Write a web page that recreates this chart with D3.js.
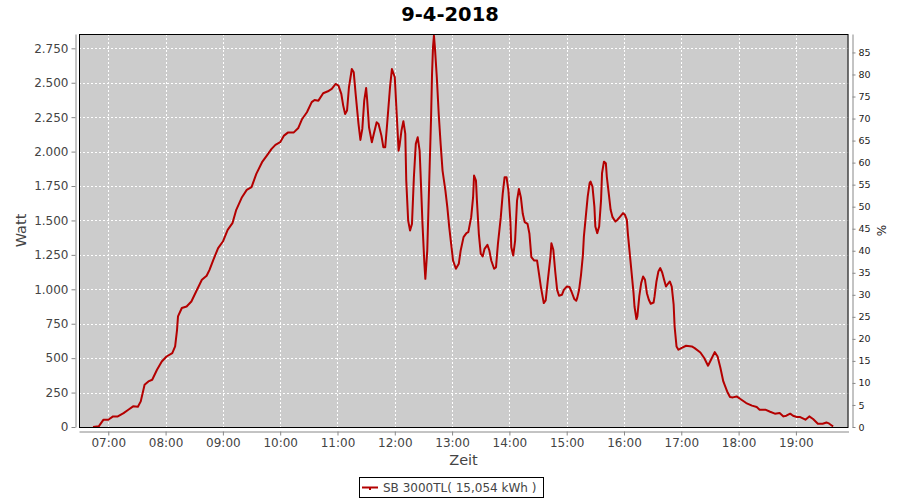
<!DOCTYPE html>
<html><head><meta charset="utf-8">
<script src="https://cdn.jsdelivr.net/npm/d3@7"></script>
<style>
html,body{margin:0;padding:0;background:#fff;}
svg{display:block;font-family:"DejaVu Sans",sans-serif;}
</style></head>
<body>
<svg id="c" width="900" height="500"></svg>
<script>
const title = "9-4-2018";
const seriesName = "SB 3000TL( 15,054 kWh )";
const times = ["06:44","06:50","06:55","07:00","07:05","07:10","07:16","07:21","07:26","07:31","07:34","07:38","07:42","07:46","07:51","07:56",
"08:01","08:07","08:10","08:12","08:13","08:17","08:22","08:27","08:32","08:38","08:43","08:46","08:50","08:55",
"09:00","09:05","09:10","09:14","09:20","09:25","09:30","09:35","09:41","09:46","09:51","09:55",
"10:00","10:04","10:08","10:14","10:19","10:23","10:28","10:33","10:36","10:40","10:45","10:50","10:54","10:58",
"11:01","11:04","11:06","11:08","11:10","11:12","11:15","11:17","11:19","11:22","11:24","11:26","11:28","11:30","11:31","11:33","11:36","11:38","11:41","11:43","11:46","11:48","11:50","11:52","11:55","11:57",
"12:00","12:02","12:04","12:05","12:07","12:09","12:11","12:12","12:14","12:16","12:18","12:20","12:22","12:24","12:26","12:27","12:29","12:31","12:32","12:34","12:36","12:38","12:39","12:40","12:41","12:42","12:44","12:46","12:48","12:50","12:53","12:55","12:57","12:59",
"13:01","13:04","13:07","13:09","13:12","13:15","13:17","13:20","13:22","13:23","13:25","13:26","13:28","13:30","13:32","13:34","13:37","13:39","13:41","13:44","13:46","13:48","13:51","13:53","13:55","13:57","13:59",
"14:01","14:02","14:04","14:06","14:08","14:10","14:12","14:14","14:16","14:19","14:21","14:23","14:26","14:29","14:31","14:33","14:36","14:38","14:40","14:43","14:44","14:46","14:48","14:50","14:52","14:55","14:57",
"15:00","15:03","15:05","15:08","15:10","15:11","15:13","15:15","15:17","15:18","15:20","15:22","15:24","15:25","15:27","15:29","15:30","15:32","15:34","15:36","15:37","15:39","15:41","15:42","15:44","15:46","15:48","15:51","15:53","15:56","15:59",
"16:01","16:03","16:04","16:06","16:08","16:10","16:11","16:13","16:14","16:16","16:18","16:20","16:22","16:24","16:26","16:28","16:31","16:32","16:34","16:36","16:38","16:40","16:42","16:44","16:46","16:48","16:50","16:52","16:53","16:55","16:57",
"17:00","17:05","17:11","17:14","17:20","17:24","17:28","17:32","17:35","17:38","17:41","17:44","17:48","17:51","17:54","17:58",
"18:03","18:08","18:14","18:19","18:22","18:28","18:33","18:38","18:43","18:47","18:50","18:54","18:57",
"19:01","19:04","19:10","19:14","19:18","19:23","19:28","19:32","19:35","19:39"];
const watts = [0,5,53,53,77,77,101,125,150,147,186,307,331,343,416,476,
512,537,585,706,803,864,875,911,984,1069,1098,1141,1214,1299,
1347,1432,1480,1577,1669,1722,1742,1838,1923,1971,2020,2049,
2068,2116,2138,2138,2172,2237,2286,2359,2375,2370,2424,2438,2455,2491,
2479,2419,2334,2273,2298,2467,2600,2576,2419,2201,2085,2165,2370,2462,2382,2177,2068,2128,2213,2201,2116,2032,2032,2201,2467,2600,
2540,2273,2007,2044,2152,2221,2128,1790,1499,1427,1475,1814,2056,2104,2007,1838,1475,1185,1076,1282,1766,2250,2564,2757,2842,2757,2540,2273,2056,1862,1717,1596,1451,1330,
1209,1149,1185,1282,1379,1408,1415,1524,1669,1826,1790,1644,1403,1258,1238,1294,1323,1282,1209,1149,1161,1330,1524,1693,1814,1814,1717,
1499,1306,1245,1354,1644,1729,1669,1548,1488,1475,1403,1234,1209,1209,1112,1016,900,919,1050,1238,1335,1287,1129,996,953,960,996,
1020,1016,984,929,917,936,996,1105,1250,1383,1528,1673,1771,1782,1746,1601,1456,1408,1456,1649,1843,1927,1916,1819,1698,1577,1524,1492,1504,1528,1553,
1541,1504,1408,1263,1118,972,875,784,803,948,1045,1093,1069,972,924,895,904,948,1057,1129,1154,1122,1069,1020,1040,1057,1020,888,730,585,561,
573,590,585,573,541,501,445,501,544,512,428,331,258,218,215,222,
198,174,155,145,126,126,111,97,102,77,82,97,82,
73,73,53,77,58,24,24,33,24,4];
const leftTicks = [0,250,500,750,1000,1250,1500,1750,2000,2250,2500,2750];
const rightTicks = [0,5,10,15,20,25,30,35,40,45,50,55,60,65,70,75,80,85];
const hourTicks = ["07:00","08:00","09:00","10:00","11:00","12:00","13:00","14:00","15:00","16:00","17:00","18:00","19:00"];
const xDomain = ["06:29:20","19:55:05"];
const wattMax = 2854;
const nominal = 3200;

const parse = d3.timeParse("%H:%M");
const parseS = d3.timeParse("%H:%M:%S");
const data = times.map((t,i)=>({t:parse(t), v:watts[i]}));

const L=79, R=848.5, T=34, B=427;
const svg = d3.select("#c");
const x = d3.scaleTime().domain(xDomain.map(parseS)).range([L,R]);
const y = d3.scaleLinear().domain([0,wattMax]).range([B,T]);
const yR = d3.scaleLinear().domain([0,wattMax/nominal*100]).range([B,T]);
const de = d3.formatLocale({decimal:",",thousands:".",grouping:[3],currency:["","€"]});
const fmt = de.format(",d");

svg.append("text").attr("x",450).attr("y",21).attr("text-anchor","middle")
  .style("font-weight","bold").style("font-size","19.5px").attr("fill","#000").text(title);

svg.append("rect").attr("x",L).attr("y",T).attr("width",R-L).attr("height",B-T).attr("fill","#cccccc");

const grid = svg.append("g").attr("stroke","#fff").attr("stroke-width",1).attr("stroke-dasharray","2,2");
grid.selectAll("line.h").data(leftTicks.slice(1)).join("line")
  .attr("x1",L).attr("x2",R).attr("y1",d=>Math.round(y(d))+0.5).attr("y2",d=>Math.round(y(d))+0.5);
grid.selectAll("line.v").data(hourTicks).join("line")
  .attr("y1",T).attr("y2",B).attr("x1",d=>Math.round(x(parse(d)))+0.5).attr("x2",d=>Math.round(x(parse(d)))+0.5);

svg.append("path").datum(data)
  .attr("fill","none").attr("stroke","#b40000").attr("stroke-width",2).attr("stroke-linejoin","round")
  .attr("d", d3.line().x(d=>x(d.t)).y(d=>y(d.v)));

svg.append("rect").attr("x",L+0.5).attr("y",T+0.5).attr("width",R-L-1).attr("height",B-T).attr("fill","none").attr("stroke","#000").attr("stroke-width",1);

function styleAxis(g, size, col){
  g.select(".domain").attr("stroke","#888");
  g.selectAll(".tick line").attr("stroke","#888");
  g.selectAll(".tick text").attr("fill",col).style("font-size",size).style("font-family","DejaVu Sans");
}
const gl = svg.append("g").attr("transform","translate(75.5,0)")
  .call(d3.axisLeft(y).tickValues(leftTicks).tickFormat(fmt).tickSize(4).tickSizeOuter(0).tickPadding(3));
styleAxis(gl,"12px","#444");
const gb = svg.append("g").attr("transform","translate(0,431.5)")
  .call(d3.axisBottom(x).tickValues(hourTicks.map(parse)).tickFormat(d3.timeFormat("%H:%M")).tickSize(4).tickSizeOuter(0).tickPadding(3));
styleAxis(gb,"12px","#444");
const gr = svg.append("g").attr("transform","translate(852.5,0)")
  .call(d3.axisRight(yR).tickValues(rightTicks).tickSize(3).tickSizeOuter(0).tickPadding(3));
styleAxis(gr,"9.5px","#222");

svg.append("text").attr("transform","translate(26,230.5) rotate(-90)").attr("text-anchor","middle")
  .style("font-size","14.5px").attr("fill","#444").text("Watt");
svg.append("text").attr("transform","translate(886,230.5) rotate(-90)").attr("text-anchor","middle")
  .style("font-size","12px").attr("fill","#222").text("%");
svg.append("text").attr("x",463.5).attr("y",465).attr("text-anchor","middle")
  .style("font-size","14.5px").attr("fill","#444").text("Zeit");

const lg = svg.append("g");
lg.append("rect").attr("x",359.5).attr("y",477.5).attr("width",184).attr("height",20).attr("fill","#fff").attr("stroke","#000");
lg.append("line").attr("x1",362).attr("x2",378).attr("y1",487.5).attr("y2",487.5).attr("stroke","#b40000").attr("stroke-width",2);
lg.append("rect").attr("x",369).attr("y",488).attr("width",2).attr("height",2).attr("fill","#b40000");
lg.append("text").attr("x",383).attr("y",492).style("font-size","12px").attr("fill","#444").text(seriesName);
</script>
</body></html>
